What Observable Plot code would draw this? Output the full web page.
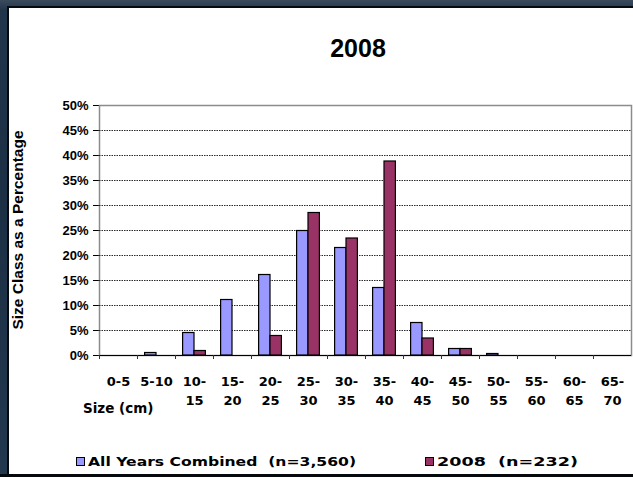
<!DOCTYPE html>
<html>
<head>
<meta charset="utf-8">
<script src="https://cdn.jsdelivr.net/npm/d3@7"></script>
<script src="https://cdn.jsdelivr.net/npm/@observablehq/plot@0.6"></script>
<style>
  html, body { margin: 0; padding: 0; }
  body {
    width: 633px; height: 477px; position: relative; overflow: hidden;
    background: linear-gradient(180deg, #3a4b5c 0px, #22364b 10px, #1c3045 200px, #22384e 477px);
  }
  #panel {
    position: absolute; left: 7px; top: 6px; width: 626px; height: 468px;
    background: #fff; border-left: 2px solid #050a10; border-top: 2px solid #050a10; box-sizing: border-box;
  }
  #bottom { position: absolute; left: 0; top: 474px; width: 633px; height: 3px; background: #05080c; }
  #chart { position: absolute; left: 8px; top: 7px; }
  .txt { position: absolute; font-weight: bold; color: #000; white-space: pre; line-height: 1; }
  #title { left: 258px; width: 200px; top: 34px; text-align: center; font: bold 25px "Liberation Sans", Arial, sans-serif; }
  #ylabel {
    left: 18px; top: 230px; font: bold 15.5px "Liberation Sans", Arial, sans-serif;
    transform: translate(-50%, -50%) rotate(-90deg); transform-origin: center;
  }
  #xlabel { left: 83px; top: 400px; font: bold 13.5px "DejaVu Sans", sans-serif; }
  .leg { position: absolute; top: 455px; font: bold 13px "DejaVu Sans", sans-serif; white-space: pre; line-height: 1; }
  .sw { display: inline-block; width: 7px; height: 7px; border: 1px solid #000; vertical-align: 0px; margin-right: 3px; }
  .lt { display: inline-block; transform-origin: left center; }
</style>
</head>
<body>
<div id="panel"></div>
<div id="bottom"></div>
<div id="chart"></div>
<div id="title" class="txt"></div>
<div id="ylabel" class="txt"></div>
<div id="xlabel" class="txt"></div>
<div id="leg1" class="leg" style="left:76px"></div>
<div id="leg2" class="leg" style="left:425px"></div>
<script>
// ---- data ----
const categories = ["0-5","5-10","10-15","15-20","20-25","25-30","30-35","35-40","40-45","45-50","50-55","55-60","60-65","65-70"];
const tickLabels = ["0-5","5-10","10-\n15","15-\n20","20-\n25","25-\n30","30-\n35","35-\n40","40-\n45","45-\n50","50-\n55","55-\n60","60-\n65","65-\n70"];
const allYears = [0, 0.5, 4.5, 11.1, 16.1, 24.9, 21.5, 13.5, 6.5, 1.3, 0.3, 0, 0, 0];
const year2008 = [0, 0, 0.9, 0, 3.9, 28.5, 23.4, 38.8, 3.4, 1.3, 0, 0, 0, 0];
const yTicks = [0, 5, 10, 15, 20, 25, 30, 35, 40, 45, 50];
const gridTicks = [5, 10, 15, 20, 25, 30, 35, 40, 45];
const seriesNames = ["All Years Combined  (n=3,560)", "2008  (n=232)"];
const seriesColors = ["#9999ff", "#993366"];
const titleText = "2008";
const yLabelText = "Size Class as a Percentage";
const xLabelText = "Size (cm)";

// ---- layout ----
const W = 625, H = 420, ML = 91, MR = 2, MT = 98, MB = 72;
const step = (W - ML - MR) / categories.length;

const rowsAll = categories.map((c, i) => ({cat: c, value: allYears[i]}));
const rows08 = categories.map((c, i) => ({cat: c, value: year2008[i]}));
const labelOf = new Map(categories.map((c, i) => [c, tickLabels[i]]));

const chart = Plot.plot({
  width: W, height: H,
  marginLeft: ML, marginRight: MR, marginTop: MT, marginBottom: MB,
  style: {background: "transparent", overflow: "visible", fontFamily: "'Liberation Sans', Arial, sans-serif", fontSize: "13px", fontWeight: "bold", color: "#000"},
  x: {domain: categories, padding: 0, axis: null},
  y: {domain: [0, 50], ticks: yTicks, tickFormat: d => d + "%", tickSize: 6, tickPadding: 5, label: null},
  marks: [
    Plot.frame({stroke: "#8c8c8c", strokeWidth: 1.5}),
    Plot.ruleY(gridTicks, {stroke: "#2a2a2a", strokeDasharray: "1.5,1"}),
    Plot.barY(rowsAll, {x: "cat", y: "value", fill: seriesColors[0], stroke: "#000", strokeWidth: 1.2, insetLeft: step * 0.2, insetRight: step * 0.5}),
    Plot.barY(rows08, {x: "cat", y: "value", fill: seriesColors[1], stroke: "#000", strokeWidth: 1.2, insetLeft: step * 0.5, insetRight: step * 0.2}),
    Plot.ruleY([0], {stroke: "#000", strokeWidth: 1.2}),
    Plot.ruleX(categories, {x: d => d, y1: 0, y2: 0, dx: -step / 2, insetBottom: -4, stroke: "#333"}),
    Plot.text(categories, {x: d => d, frameAnchor: "bottom", text: d => labelOf.get(d), lineAnchor: "top", dy: 17, lineHeight: 1.45, fontFamily: "DejaVu Sans", fontWeight: "bold", fontSize: 13, fill: "#000"})
  ]
});
document.getElementById("chart").appendChild(chart);

document.getElementById("title").textContent = titleText;
document.getElementById("ylabel").textContent = yLabelText;
document.getElementById("xlabel").textContent = xLabelText;

function legendItem(el, name, color, scale) {
  const sw = document.createElement("span");
  sw.className = "sw"; sw.style.background = color;
  const t = document.createElement("span");
  t.className = "lt"; t.textContent = name; t.style.transform = `scaleX(${scale})`;
  el.appendChild(sw); el.appendChild(t);
}
legendItem(document.getElementById("leg1"), seriesNames[0], seriesColors[0], 1.2);
legendItem(document.getElementById("leg2"), seriesNames[1], seriesColors[1], 1.35);
</script>
</body>
</html>
